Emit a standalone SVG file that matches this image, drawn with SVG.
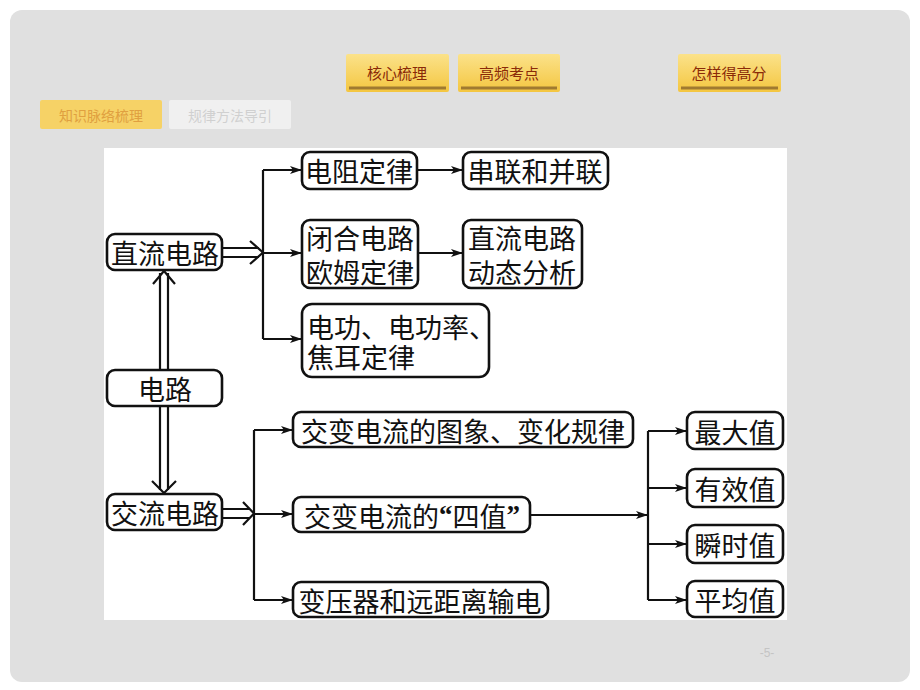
<svg xmlns="http://www.w3.org/2000/svg" width="920" height="690" viewBox="0 0 920 690">
<defs>
<linearGradient id="gold" x1="0" y1="0" x2="0" y2="1">
<stop offset="0" stop-color="#fbe28a"/>
<stop offset="1" stop-color="#f4c640"/>
</linearGradient>
<marker id="ah" viewBox="0 0 12 8" refX="12" refY="4" markerWidth="12" markerHeight="8" markerUnits="userSpaceOnUse" orient="auto">
<path d="M0,0 L12,4 L0,8 L3,4 Z" fill="#111"/>
</marker>
<style>
.box{fill:#fff;stroke:#111;stroke-width:2.6}
.t{font-family:"Noto Sans CJK SC","Noto Sans CJK JP",sans-serif;font-size:27px;fill:#111;dominant-baseline:central}
.c{text-anchor:middle}
.q{font-family:"Liberation Serif",serif;font-weight:bold}
.ln{fill:none;stroke:#111;stroke-width:2.2}
.arr{fill:none;stroke:#111;stroke-width:2.2;marker-end:url(#ah)}
.btn{font-family:"Noto Sans CJK SC",sans-serif;font-size:15px;fill:#8a2a08;text-anchor:middle;dominant-baseline:central}
</style>
</defs>
<rect x="0" y="0" width="920" height="690" fill="#fff"/>
<rect x="10" y="10" width="900" height="672" rx="12" fill="#e0e0e0"/>
<g id="topnav">
<rect x="346" y="54" width="103" height="38" fill="url(#gold)" rx="2"/>
<line x1="349" y1="88" x2="446" y2="88" stroke="#a07a30" stroke-width="3"/>
<text class="btn" x="397" y="72">核心梳理</text>
<rect x="458" y="54" width="102" height="38" fill="url(#gold)" rx="2"/>
<line x1="461" y1="88" x2="557" y2="88" stroke="#a07a30" stroke-width="3"/>
<text class="btn" x="509" y="72">高频考点</text>
<rect x="678" y="54" width="103" height="38" fill="url(#gold)" rx="2"/>
<line x1="681" y1="88" x2="778" y2="88" stroke="#a07a30" stroke-width="3"/>
<text class="btn" x="729" y="72">怎样得高分</text>
<rect x="40" y="100" width="122" height="29" fill="#f6d266" rx="2"/>
<text class="btn" x="101" y="115" style="font-size:14px;fill:#e0a040">知识脉络梳理</text>
<rect x="169" y="100" width="122" height="29" fill="#f0f0f0" rx="2"/>
<text class="btn" x="230" y="115" style="font-size:14px;fill:#d0d0d0">规律方法导引</text>
</g>
<rect x="104" y="148" width="683" height="472" fill="#fff"/>
<g id="connectors">
<path class="ln" d="M222,248 H259 M222,257 H259"/>
<path class="ln" d="M250,241 L263,252.5 L250,264"/>
<path class="ln" d="M263,170 V339"/>
<path class="arr" d="M263,170 H302"/>
<path class="arr" d="M263,253 H302"/>
<path class="arr" d="M263,339 H302"/>
<path class="arr" d="M417,170 H463"/>
<path class="arr" d="M418,253 H463"/>
<path class="ln" d="M160,370 V273 M168,370 V273"/>
<path class="ln" d="M153,284 L164,271 L175,284"/>
<path class="ln" d="M160,406 V490 M168,406 V490"/>
<path class="ln" d="M152,481 L164,493 L176,481"/>
<path class="ln" d="M222,509 H250 M222,518 H250"/>
<path class="ln" d="M243,502 L254,513.5 L243,525"/>
<path class="ln" d="M254,430 V600"/>
<path class="arr" d="M254,430 H293"/>
<path class="arr" d="M254,514 H293"/>
<path class="arr" d="M254,600 H293"/>
<path class="arr" d="M530,515 H648"/>
<path class="ln" d="M648,431 V600"/>
<path class="arr" d="M648,431 H687"/>
<path class="arr" d="M648,488 H687"/>
<path class="arr" d="M648,544 H687"/>
<path class="arr" d="M648,600 H687"/>
</g>
<g id="n-dc"><rect class="box" x="107" y="234" width="115" height="36" rx="8"/><text class="t c" x="165" y="252">直流电路</text></g>
<g id="n-root"><rect class="box" x="107" y="370" width="115" height="36" rx="8"/><text class="t c" x="165" y="388">电路</text></g>
<g id="n-ac"><rect class="box" x="107" y="494" width="115" height="36" rx="8"/><text class="t c" x="165" y="512">交流电路</text></g>
<g id="n-r"><rect class="box" x="302" y="152" width="115" height="37" rx="8"/><text class="t c" x="359" y="170">电阻定律</text></g>
<g id="n-sp"><rect class="box" x="463" y="152" width="145" height="37" rx="8"/><text class="t c" x="535" y="170">串联和并联</text></g>
<g id="n-ohm"><rect class="box" x="302" y="220" width="116" height="68" rx="8"/><text class="t c"><tspan x="360" y="237">闭合电路</tspan><tspan x="360" y="271">欧姆定律</tspan></text></g>
<g id="n-dyn"><rect class="box" x="463" y="220" width="119" height="68" rx="8"/><text class="t c"><tspan x="522" y="237">直流电路</tspan><tspan x="522" y="271">动态分析</tspan></text></g>
<g id="n-pw"><rect class="box" x="302" y="304" width="187" height="73" rx="10"/><text class="t"><tspan x="307" y="326">电功、电功率、</tspan><tspan x="307" y="356">焦耳定律</tspan></text></g>
<g id="n-img"><rect class="box" x="293" y="412" width="340" height="35" rx="8"/><text class="t c" x="463" y="430">交变电流的图象、变化规律</text></g>
<g id="n-four"><rect class="box" x="293" y="497" width="237" height="35" rx="8"/><text class="t c" x="412" y="515">交变电流的<tspan class="q">“</tspan>四值<tspan class="q">”</tspan></text></g>
<g id="n-tr"><rect class="box" x="293" y="582" width="255" height="35" rx="8"/><text class="t c" x="420" y="600">变压器和远距离输电</text></g>
<g id="n-max"><rect class="box" x="687" y="412" width="96" height="37" rx="8"/><text class="t c" x="735" y="431">最大值</text></g>
<g id="n-eff"><rect class="box" x="687" y="469" width="96" height="38" rx="8"/><text class="t c" x="735" y="488">有效值</text></g>
<g id="n-ins"><rect class="box" x="687" y="525" width="96" height="38" rx="8"/><text class="t c" x="735" y="544">瞬时值</text></g>
<g id="n-avg"><rect class="box" x="687" y="581" width="96" height="36" rx="8"/><text class="t c" x="735" y="599">平均值</text></g>
<text x="767" y="657" font-family="Liberation Sans, sans-serif" font-size="12" fill="#c4c4c4" text-anchor="middle">-5-</text>
</svg>
